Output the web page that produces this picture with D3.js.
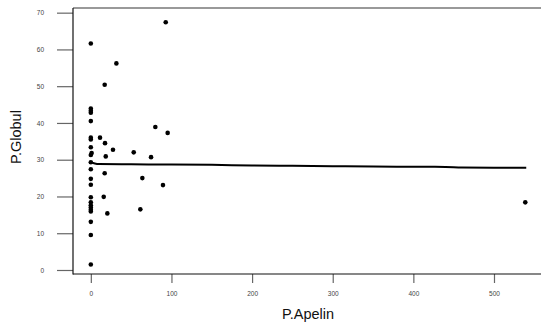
<!DOCTYPE html>
<html>
<head>
<meta charset="utf-8">
<script src="https://cdn.jsdelivr.net/npm/d3@7"></script>
<style>
  body { margin: 0; background: #fff; }
  svg { display: block; font-family: "Liberation Sans", Arial, sans-serif; }
</style>
</head>
<body>
<svg id="chart"></svg>
<script>
// P.Apelin vs P.Globul scatter with a smoothed trend line

const apelin = [
  0, 0, 0, 0, 0, 0, 0, 0, 1, 0, 0, 0, 0, 0, 0, 0, 0, 0, 0, 0, 0, 0, 0,
  92.9, 31.7, 17.2, 80, 95.3, 11.4, 17.6, 27.5, 53.2, 18.5, 74.7,
  17.2, 63.9, 89.5, 16.0, 61.4, 20.5, 538.8
];
const globul = [
  61.6, 43.9, 43.3, 42.8, 40.5, 36.0, 35.5, 33.4, 31.8, 31.3, 29.3, 27.4, 24.8,
  23.2, 19.8, 18.4, 17.6, 17.0, 16.4, 15.9, 13.1, 9.5, 1.5,
  67.4, 56.2, 50.4, 38.9, 37.3, 36.0, 34.5, 32.7, 32.0, 30.9, 30.7,
  26.3, 25.0, 23.1, 19.9, 16.5, 15.4, 18.4
];

// Smoothed curve
const smoothX = [0, 5, 10, 50, 100, 150, 200, 250, 300, 350, 400, 440, 460, 500, 540];
const smoothY = [29.3, 28.95, 28.8, 28.75, 28.7, 28.6, 28.45, 28.35, 28.25, 28.15, 28.1, 28.05, 27.85, 27.8, 27.8];

const xTicks = [0, 100, 200, 300, 400, 500];
const yTicks = [0, 10, 20, 30, 40, 50, 60, 70];

const width = 541;
const height = 325;
const plotLeft = 73, plotRight = 541, plotTop = 8, plotBottom = 274;

const svg = d3.select("#chart")
  .attr("width", width)
  .attr("height", height);

const x = d3.scaleLinear().domain([-22.1, 558.3]).range([plotLeft, plotRight]);
const y = d3.scaleLinear().domain([-1.09, 71.27]).range([plotBottom, plotTop]);

// y axis (ticks outside the box)
const yAxis = svg.append("g")
  .attr("transform", `translate(${plotLeft},0)`)
  .call(d3.axisLeft(y).tickValues(yTicks).tickSize(16).tickPadding(13).tickFormat(d3.format("d")));
yAxis.select(".domain").remove();
yAxis.selectAll(".tick line").attr("stroke", "#666").attr("stroke-width", 1.2);
yAxis.selectAll(".tick text").attr("fill", "#444").style("font-size", "6.5px");

// x axis
const xAxis = svg.append("g")
  .attr("transform", `translate(0,${plotBottom})`)
  .call(d3.axisBottom(x).tickValues(xTicks).tickSize(9).tickPadding(8.7).tickFormat(d3.format("d")));
xAxis.select(".domain").remove();
xAxis.selectAll(".tick line").attr("stroke", "#666").attr("stroke-width", 1.2);
xAxis.selectAll(".tick text").attr("fill", "#444").style("font-size", "6.5px");

// frame
svg.append("line")
  .attr("x1", plotLeft).attr("x2", plotRight).attr("y1", plotTop).attr("y2", plotTop)
  .attr("stroke", "#777").attr("stroke-width", 1.5);
svg.append("line")
  .attr("x1", plotLeft).attr("x2", plotLeft).attr("y1", plotTop).attr("y2", plotBottom + 0.5)
  .attr("stroke", "#111").attr("stroke-width", 1.2);
svg.append("line")
  .attr("x1", plotLeft).attr("x2", plotRight).attr("y1", plotBottom).attr("y2", plotBottom)
  .attr("stroke", "#111").attr("stroke-width", 1.2);

// points
svg.append("g")
  .selectAll("circle")
  .data(d3.zip(apelin, globul))
  .enter().append("circle")
  .attr("cx", d => x(d[0]))
  .attr("cy", d => y(d[1]))
  .attr("r", 2.3)
  .attr("fill", "#000");

// smooth line
const line = d3.line()
  .x(d => x(d[0]))
  .y(d => y(d[1]))
  .curve(d3.curveMonotoneX);

svg.append("path")
  .datum(d3.zip(smoothX, smoothY))
  .attr("d", line)
  .attr("fill", "none")
  .attr("stroke", "#000")
  .attr("stroke-width", 2);

// axis titles
svg.append("text")
  .attr("x", 308)
  .attr("y", 319)
  .attr("text-anchor", "middle")
  .style("font-size", "14.5px")
  .attr("fill", "#111")
  .text("P.Apelin");

svg.append("text")
  .attr("transform", "translate(21,137) rotate(-90)")
  .attr("text-anchor", "middle")
  .style("font-size", "14.5px")
  .attr("fill", "#111")
  .text("P.Globul");
</script>
</body>
</html>
